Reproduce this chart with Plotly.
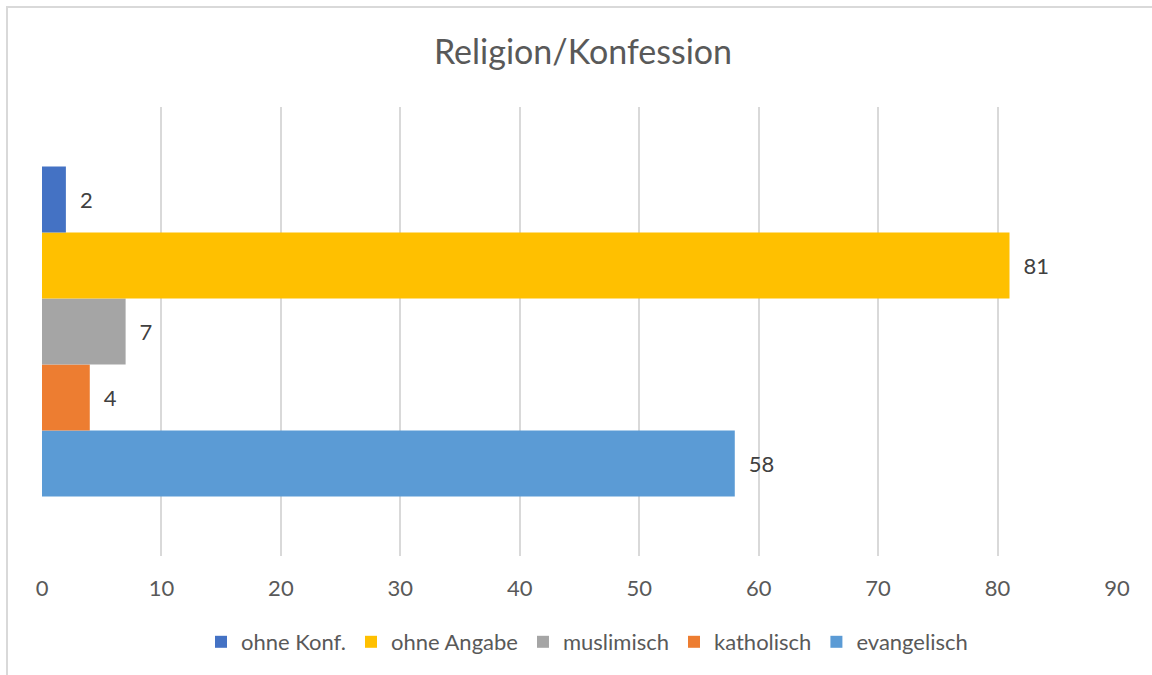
import plotly.graph_objects as go

# Data (bottom to top in the chart)
series_names = ["evangelisch", "katholisch", "muslimisch", "ohne Angabe", "ohne Konf."]
series_values = [58, 4, 7, 81, 2]
series_colors = ["#5B9BD5", "#ED7D31", "#A5A5A5", "#FFC000", "#4472C4"]
category = ["Religion/Konfession"]
x_ticks = [0, 10, 20, 30, 40, 50, 60, 70, 80, 90]

FONT = "Lato, 'Open Sans', sans-serif"

fig = go.Figure()
for name, val, col in zip(series_names, series_values, series_colors):
    fig.add_trace(go.Bar(
        name=name,
        x=[val],
        y=category,
        orientation="h",
        marker=dict(color=col, line=dict(width=0)),
        text=["\u2002" + str(val)],
        textposition="outside",
        textfont=dict(family=FONT, size=22, color="#404040"),
        cliponaxis=False,
        hoverinfo="x+name",
    ))

# plot area in pixels
L, R, T, B = 42, 35, 107, 119
W, H = 1152, 675
pw, ph = W - L - R, H - T - B

def px_x(px):
    return (px - L) / pw

def px_y(py):
    return (H - B - py) / ph

fig.update_layout(
    width=W, height=H,
    margin=dict(l=L, r=R, t=T, b=B, pad=0),
    paper_bgcolor="white",
    plot_bgcolor="white",
    barmode="group",
    bargap=0.265,
    bargroupgap=0,
    font=dict(family=FONT, color="#595959"),
    title=dict(
        text="Religion/Konfession",
        font=dict(family=FONT, size=34, color="#595959"),
        x=583 / W, xref="container", xanchor="center",
        y=1 - 52 / H, yref="container", yanchor="middle",
    ),
    xaxis=dict(
        range=[0, 90],
        tickvals=x_ticks,
        ticktext=[str(t) for t in x_ticks],
        showgrid=True,
        gridcolor="#D9D9D9",
        gridwidth=1.5,
        zeroline=False,
        showline=False,
        ticks="",
        tickfont=dict(family=FONT, size=22, color="#595959"),
        ticklabelstandoff=17,
        fixedrange=True,
    ),
    yaxis=dict(
        showticklabels=False,
        showgrid=False,
        zeroline=False,
        showline=False,
        ticks="",
        fixedrange=True,
    ),
    legend=dict(
        orientation="h",
        traceorder="reversed",
        x=px_x(587), xanchor="center",
        y=px_y(642), yanchor="middle",
        font=dict(family=FONT, size=22, color="#595959"),
        itemclick=False,
        itemdoubleclick=False,
    ),
    showlegend=True,
)

# chart-area border (left and top edges visible; others run off-canvas)
fig.add_shape(
    type="rect", xref="paper", yref="paper",
    x0=px_x(7), x1=px_x(W + 20), y0=px_y(H + 20), y1=px_y(7),
    line=dict(color="#D9D9D9", width=2), fillcolor="rgba(0,0,0,0)",
    layer="below",
)

fig.write_html("out.html")
